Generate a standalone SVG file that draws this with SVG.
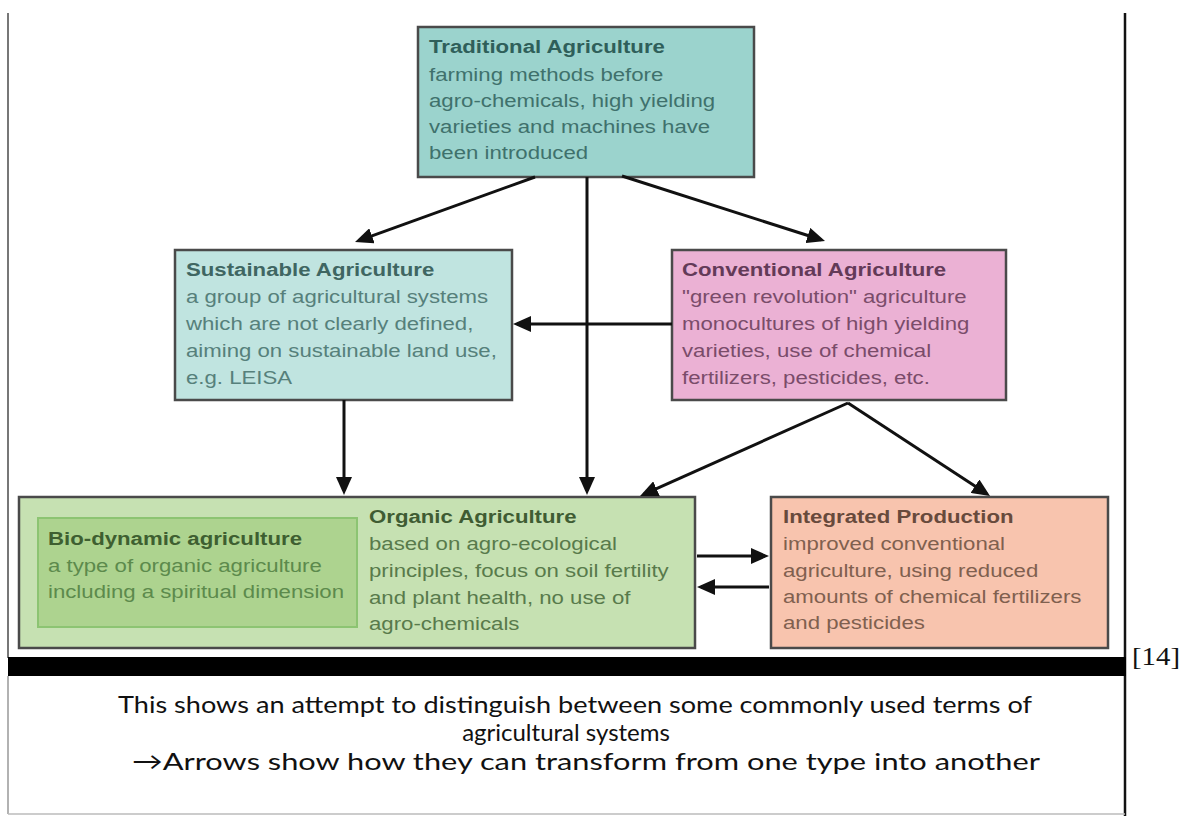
<svg xmlns="http://www.w3.org/2000/svg" width="1191" height="816" viewBox="0 0 1191 816">
<style>
.box{stroke:#4a4a4a;stroke-width:2.5}
.t{font-family:"Liberation Sans",Arial,sans-serif;font-size:18.5px}
.b{font-weight:bold}
.cn{stroke:#111;stroke-width:3;fill:none;marker-end:url(#ah)}
.cap{font-family:Lato,"Open Sans",sans-serif;font-size:24px;fill:#111}
</style>
<defs>
<marker id="ah" markerUnits="userSpaceOnUse" markerWidth="18" markerHeight="16" viewBox="0 0 18 16" refX="14" refY="8" orient="auto">
<path d="M0,0 L18,8 L0,16 z" fill="#111"/>
</marker>
</defs>
<rect width="1191" height="816" fill="#fff"/>
<g id="frame">
<line x1="8" y1="13" x2="8" y2="658" stroke="#777" stroke-width="2"/>
<line x1="1125" y1="13" x2="1125" y2="816" stroke="#111" stroke-width="2.5"/>
<rect x="8" y="657" width="1118" height="19" fill="#000"/>
<line x1="8" y1="676" x2="8" y2="814" stroke="#999" stroke-width="1.5"/>
<line x1="8" y1="814" x2="1125" y2="814" stroke="#bbb" stroke-width="1.5"/>
</g>
<g id="traditional">
<rect class="box" x="418" y="27" width="336" height="150" fill="#9bd3cd"/>
<text class="t" fill="#3f716c" transform="matrix(1.2 0 0 1 429 0)"><tspan class="b" fill="#2f5f5a" x="0" y="53">Traditional Agriculture</tspan><tspan x="0" y="81">farming methods before</tspan><tspan x="0" y="107">agro-chemicals, high yielding</tspan><tspan x="0" y="133">varieties and machines have</tspan><tspan x="0" y="159">been introduced</tspan></text>
</g>
<g id="sustainable">
<rect class="box" x="175" y="250" width="337" height="150" fill="#c0e4e0"/>
<text class="t" fill="#56807b" transform="matrix(1.2 0 0 1 186 0)"><tspan class="b" fill="#3f6662" x="0" y="276">Sustainable Agriculture</tspan><tspan x="0" y="303">a group of agricultural systems</tspan><tspan x="0" y="330">which are not clearly defined,</tspan><tspan x="0" y="357">aiming on sustainable land use,</tspan><tspan x="0" y="384">e.g. LEISA</tspan></text>
</g>
<g id="conventional">
<rect class="box" x="672" y="250" width="334" height="150" fill="#ebb1d4"/>
<text class="t" fill="#7a4c6a" transform="matrix(1.2 0 0 1 682 0)"><tspan class="b" fill="#633a58" x="0" y="276">Conventional Agriculture</tspan><tspan x="0" y="303">"green revolution" agriculture</tspan><tspan x="0" y="330">monocultures of high yielding</tspan><tspan x="0" y="357">varieties, use of chemical</tspan><tspan x="0" y="384">fertilizers, pesticides, etc.</tspan></text>
</g>
<g id="organic">
<rect class="box" x="19" y="497" width="676" height="151" fill="#c6e1b2"/>
<text class="t" fill="#587a4b" transform="matrix(1.2 0 0 1 369 0)"><tspan class="b" fill="#3f5c33" x="0" y="523">Organic Agriculture</tspan><tspan x="0" y="550">based on agro-ecological</tspan><tspan x="0" y="577">principles, focus on soil fertility</tspan><tspan x="0" y="604">and plant health, no use of</tspan><tspan x="0" y="630">agro-chemicals</tspan></text>
</g>
<g id="biodynamic">
<rect x="38" y="518" width="319" height="109" fill="#add38f" stroke="#8cc472" stroke-width="2"/>
<text class="t" fill="#5c8a4c" transform="matrix(1.2 0 0 1 48 0)"><tspan class="b" fill="#3e5f31" x="0" y="545">Bio-dynamic agriculture</tspan><tspan x="0" y="572">a type of organic agriculture</tspan><tspan x="0" y="598">including a spiritual dimension</tspan></text>
</g>
<g id="integrated">
<rect class="box" x="771" y="497" width="337" height="151" fill="#f8c4ae"/>
<text class="t" fill="#80604f" transform="matrix(1.2 0 0 1 783 0)"><tspan class="b" fill="#684a3c" x="0" y="523">Integrated Production</tspan><tspan x="0" y="550">improved conventional</tspan><tspan x="0" y="577">agriculture, using reduced</tspan><tspan x="0" y="603">amounts of chemical fertilizers</tspan><tspan x="0" y="629">and pesticides</tspan></text>
</g>
<g id="connectors">
<line class="cn" x1="535" y1="177" x2="358.8" y2="240.6"/>
<line class="cn" x1="587" y1="177" x2="587" y2="491"/>
<line class="cn" x1="622" y1="176" x2="821.2" y2="239.8"/>
<line class="cn" x1="672" y1="324" x2="517" y2="324"/>
<line class="cn" x1="344" y1="400" x2="344" y2="491"/>
<line class="cn" x1="848" y1="403" x2="643.7" y2="494.4"/>
<line class="cn" x1="848" y1="403" x2="986.7" y2="493.8"/>
<line class="cn" x1="697" y1="556" x2="765" y2="556"/>
<line class="cn" x1="769" y1="587" x2="701" y2="587"/>
</g>
<g id="caption">
<text class="cap" x="575" y="713" text-anchor="middle" textLength="914" lengthAdjust="spacingAndGlyphs">This shows an attempt to distinguish between some commonly used terms of</text>
<text class="cap" x="566" y="741" text-anchor="middle">agricultural systems</text>
<text class="cap" x="586" y="770" text-anchor="middle" textLength="908" lengthAdjust="spacingAndGlyphs">→Arrows show how they can transform from one type into another</text>
</g>
<text x="1132" y="665" font-family="'Liberation Serif','Times New Roman',serif" font-size="26" fill="#111" textLength="48" lengthAdjust="spacingAndGlyphs">[14]</text>
</svg>
